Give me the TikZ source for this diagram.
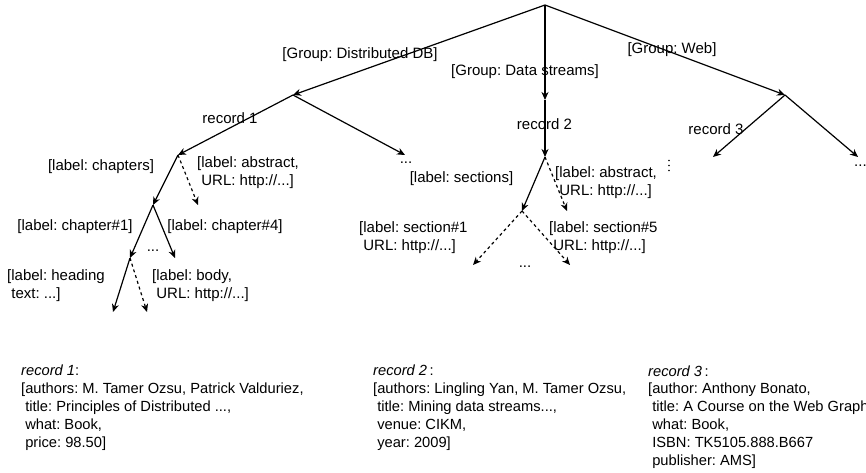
\documentclass[tikz,border=0pt]{standalone}
\usepackage{fontspec}
\setmainfont{Liberation Sans}
\usetikzlibrary{arrows.meta}
\begin{document}
\frenchspacing
\begin{tikzpicture}[x=1pt,y=-1pt,
  edge/.style={line width=1.2pt,-{Stealth[length=8pt,width=7pt,inset=2.5pt]}},
  dedge/.style={edge,dash pattern=on 3pt off 3pt},
  lbl/.style={inner sep=0pt,font=\fontsize{15}{18}\selectfont\frenchspacing},
  mlbl/.style={lbl,anchor=west,align=left},
  rec/.style={inner sep=0pt,anchor=west,align=left,font=\fontsize{14.7}{17.9}\selectfont\frenchspacing}]
\useasboundingbox (0,0) rectangle (866,472);
% junctions
\coordinate (r) at (545,5);
\coordinate (g1) at (293,95);
\coordinate (g2) at (545,100);
\coordinate (g3) at (785,95);
\coordinate (r1) at (178,155);
\coordinate (d1) at (405,155);
\coordinate (r2) at (545,157);
\coordinate (r3) at (713,157);
\coordinate (d3) at (858,157);
\coordinate (c1) at (153,205);
\coordinate (a1) at (198,205);
\coordinate (h1) at (130,258);
\coordinate (c4) at (175,258);
\coordinate (hd) at (113,312);
\coordinate (bd) at (147,312);
\coordinate (s) at (522,211);
\coordinate (a2) at (567,211);
\coordinate (s1) at (473,265);
\coordinate (s5) at (570,265);
% edges
\draw[edge] (r) -- (g1);
\draw[edge] (r) -- (g2);
\draw[edge] (r) -- (g3);
\draw[edge] (g1) -- (r1);
\draw[edge] (g1) -- (d1);
\draw[edge] (g2) -- (r2);
\draw[edge] (g3) -- (r3);
\draw[edge] (g3) -- (d3);
\draw[edge] (r1) -- (c1);
\draw[dedge] (r1) -- (a1);
\draw[edge] (c1) -- (h1);
\draw[edge] (c1) -- (c4);
\draw[edge] (h1) -- (hd);
\draw[dedge] (h1) -- (bd);
\draw[edge] (r2) -- (s);
\draw[dedge] (r2) -- (a2);
\draw[dedge] (s) -- (s1);
\draw[dedge] (s) -- (s5);
% labels
\node[lbl] (lg1) at (360,55) {[Group: Distributed DB]};
\node[lbl] (lg2) at (525,72) {[Group: Data streams]};
\node[lbl] (lg3) at (672,50) {[Group: Web]};
\node[lbl] (lr1) at (230,118) {record 1};
\node[lbl] (lr2) at (544.5,124) {record 2};
\node[lbl] (lr3) at (716,129) {record 3};
\node[lbl] (dots1) at (406,163) {...};
\node[lbl,anchor=west] (dots3) at (854,166) {...};
\node[lbl] (lsec) at (461.5,179) {[label: sections]};
\node[lbl] (lchap) at (101,167) {[label: chapters]};
\node[mlbl] (labs1) at (197,173) {[label: abstract,\\~URL: http://...]};
\node[lbl] (lch1) at (75,227) {[label: chapter\#1]};
\node[lbl] (lch4) at (225,227) {[label: chapter\#4]};
\node[lbl] (dots2) at (153,251) {...};
\node[mlbl] (lhead) at (7,286) {[label: heading\\~text: ...]};
\node[mlbl] (lbody) at (152,286) {[label: body,\\~URL: http://...]};
\node[mlbl] (labs2) at (555,183) {[label: abstract,\\~URL: http://...]};
\node[mlbl] (lsec1) at (359,237.5) {[label: section\#1\\~URL: http://...]};
\node[mlbl] (lsec5) at (549,237.5) {[label: section\#5\\~URL: http://...]};
\node[lbl] (dots4) at (525,267) {...};
\fill (669,160.5) circle (0.9) (669,165.5) circle (0.9) (669,170.5) circle (0.9);
% records
\node[rec] (rec1) at (21,407.5) {\textit{record 1}:\\{}[authors: M. Tamer Ozsu, Patrick Valduriez,\\~title: Principles of Distributed ...,\\~what: Book,\\~price: 98.50]};
\node[rec] (rec2) at (373,407.5) {\textit{record 2}\,:\\{}[authors: Lingling Yan, M. Tamer Ozsu,\\~title: Mining data streams...,\\~venue: CIKM,\\~year: 2009]};
\node[rec] (rec3) at (648,417) {\textit{record 3}\,:\\{}[author: Anthony Bonato,\\~title: A Course on the Web Graph,\\~what: Book,\\~ISBN: TK5105.888.B667\\~publisher: AMS]};
\end{tikzpicture}
\end{document}
